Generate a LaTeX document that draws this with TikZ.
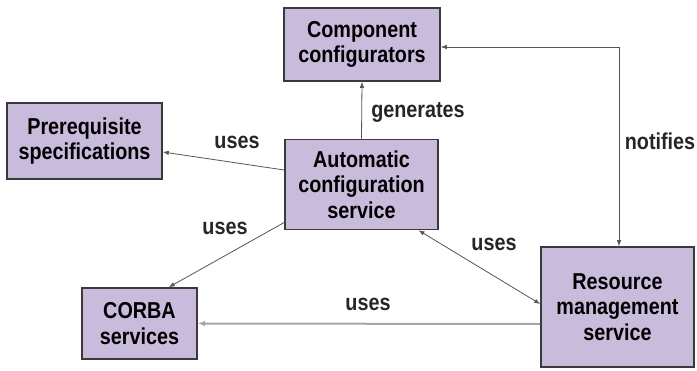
\documentclass[tikz,border=0pt]{standalone}
\usepackage{fontspec}
\setmainfont{Liberation Sans}[FakeStretch=0.86,BoldFont={Liberation Sans Bold}]
\usetikzlibrary{arrows.meta}
\definecolor{boxfill}{HTML}{C9BBDB}
\definecolor{boxline}{HTML}{3A3A3A}
\definecolor{conn}{HTML}{555555}
\tikzset{
  comp/.style={draw=boxline, line width=1.6pt, fill=boxfill, align=center, inner sep=0pt,
    font=\fontsize{23}{25.5}\selectfont\bfseries},
  conline/.style={draw=conn, line width=0.8pt, -{Latex[length=6pt,width=4.5pt]}},
  lbl/.style={font=\fontsize{23}{25}\selectfont\bfseries, text=black!85, inner sep=0pt}
}
\begin{document}
\begin{tikzpicture}[x=1pt,y=-1pt]
\useasboundingbox (0,0) rectangle (697,370);
\node[comp, minimum width=156pt, minimum height=73pt] (cc) at (362,44.5) {Component\\configurators};
\node[comp, minimum width=155pt, minimum height=76pt] (pre) at (84.5,141) {Prerequisite\\specifications};
\node[comp, minimum width=153pt, minimum height=90pt] (acs) at (361.5,184.5) {Automatic\\configuration\\service};
\node[comp, minimum width=115pt, minimum height=71pt] (corba) at (139.5,323.5) {CORBA\\services};
\node[comp, minimum width=153pt, minimum height=120pt] (rms) at (617.5,307) {Resource\\management\\service};

\draw[conline] (acs.north) -- (cc.south);
\draw[conline] ([yshift=14.5pt]acs.west) -- ([yshift=-11pt]pre.east);
\draw[conline] ([yshift=-38pt]acs.west) -- ([xshift=-29pt]corba.north east);
\draw[conline, {Latex[length=6pt,width=4.5pt]}-{Latex[length=6pt,width=4.5pt]}] ([xshift=57pt]acs.south) -- ([yshift=3pt]rms.west);
\draw[draw=black!35, line width=2pt, -{Latex[length=7pt,width=5.5pt]}] ([yshift=-17pt]rms.west) -- (corba.east);
\draw[conline, {Latex[length=6pt,width=4.5pt]}-{Latex[length=6pt,width=4.5pt]}] ([xshift=1.5pt]rms.north) |- ([yshift=-2.5pt]cc.east);

\node[lbl] (l1) at (418,112) {generates};
\node[lbl] (l2) at (237,142) {uses};
\node[lbl] (l3) at (225,228) {uses};
\node[lbl] (l4) at (494,244) {uses};
\node[lbl] (l5) at (368,304) {uses};
\node[lbl] (l6) at (660,141) {notifies};
\end{tikzpicture}
\end{document}
